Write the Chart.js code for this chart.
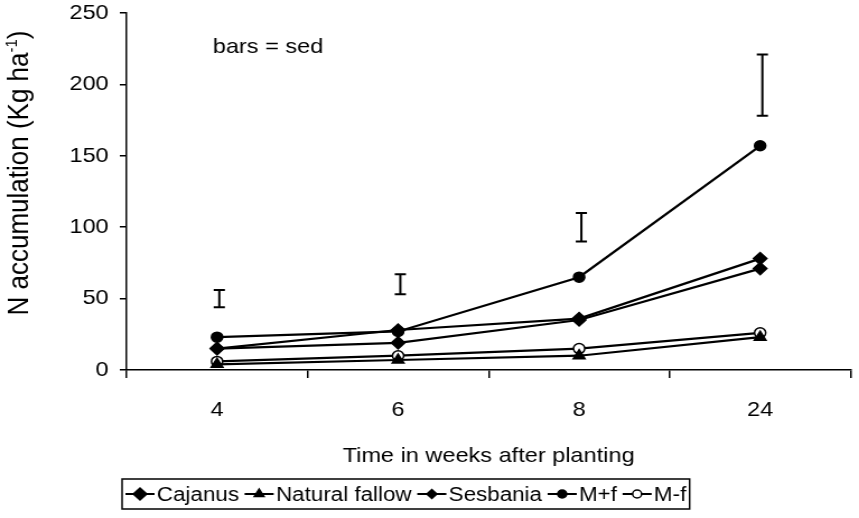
<!DOCTYPE html>
<html>
<head>
<meta charset="utf-8">
<script src="https://cdn.jsdelivr.net/npm/chart.js@4/dist/chart.umd.min.js"></script>
<style>
  html, body { margin: 0; padding: 0; background: #fff; overflow: hidden; }
  /* the original picture is stretched sideways, so draw narrow and widen */
  #wrap { width: 767px; height: 518px; transform: scaleX(1.12); transform-origin: 0 0; }
</style>
</head>
<body>
<div id="wrap"><canvas id="chart"></canvas></div>
<script>
// ── Data ──
const weeks = ['4', '6', '8', '24'];
const cajanus = [15, 28, 36, 78];
const naturalFallow = [4, 7, 10, 23];
const sesbania = [15, 19, 35, 71];
const mPlusF = [23, 27, 65, 157];
const mMinusF = [6, 10, 15, 26];
const sedLow = [44, 53, 90, 178];
const sedHigh = [56, 67, 110, 221];

const FONT = "'Liberation Sans', Arial, sans-serif";

function series(label, data, style, radius, fill, legendRadius) {
  return {
    label, data,
    borderColor: '#000', borderWidth: 2.2, tension: 0,
    pointStyle: style, pointRadius: radius,
    pointBackgroundColor: fill, pointBorderColor: '#000', pointBorderWidth: 1.5,
    legendRadius,
  };
}

const datasets = [
  series('Cajanus', cajanus, 'rectRot', 6, '#000', 6),
  series('Natural fallow', naturalFallow, 'triangle', 6, '#000', 5),
  series('Sesbania', sesbania, 'rectRot', 6, '#000', 4.5),
  series('M+f', mPlusF, 'circle', 5, '#000', 4),
  series('M-f', mMinusF, 'circle', 5, '#fff', 4),
];

// ── Extras: sed bars, note, axis titles, boxed legend ──
const extras = {
  id: 'extras',
  afterDatasetsDraw(chart) {
    const { ctx, scales: { x, y } } = chart;
    ctx.save();
    ctx.strokeStyle = '#000';
    ctx.lineWidth = 2;
    weeks.forEach((w, i) => {
      const px = x.getPixelForValue(i) + 2;
      const top = y.getPixelForValue(sedHigh[i]);
      const bot = y.getPixelForValue(sedLow[i]);
      ctx.beginPath();
      ctx.moveTo(px, top); ctx.lineTo(px, bot);
      ctx.moveTo(px - 5, top); ctx.lineTo(px + 5, top);
      ctx.moveTo(px - 5, bot); ctx.lineTo(px + 5, bot);
      ctx.stroke();
    });

    ctx.fillStyle = '#000';
    ctx.font = `21px ${FONT}`;
    ctx.textBaseline = 'middle';
    ctx.textAlign = 'left';
    ctx.fillText('bars = sed', 190, 47);

    // x title
    ctx.textAlign = 'center';
    ctx.fillText('Time in weeks after planting', (x.left + x.right) / 2, 456);

    // y title with superscript
    ctx.save();
    ctx.translate(16, 173);
    ctx.rotate(-Math.PI / 2);
    ctx.textAlign = 'left';
    ctx.textBaseline = 'alphabetic';
    const main = 'N accumulation (Kg ha', sup = '-1', end = ')';
    ctx.font = `26px ${FONT}`;
    const w1 = ctx.measureText(main).width, w3 = ctx.measureText(end).width;
    ctx.font = `15px ${FONT}`;
    const w2 = ctx.measureText(sup).width;
    let tx = -(w1 + w2 + w3) / 2;
    ctx.font = `26px ${FONT}`;
    ctx.fillText(main, tx, 9);
    ctx.font = `15px ${FONT}`;
    ctx.fillText(sup, tx + w1, -1);
    ctx.font = `26px ${FONT}`;
    ctx.fillText(end, tx + w1 + w2, 9);
    ctx.restore();

    // legend
    const boxLeft = 109, boxTop = 479, boxBottom = 509, midY = 494;
    const sym = 26, gap = 2, itemGap = 5;
    ctx.font = `20px ${FONT}`;
    ctx.textAlign = 'left';
    ctx.textBaseline = 'middle';
    let lx = boxLeft + 3;
    datasets.forEach(ds => {
      ctx.strokeStyle = '#000';
      ctx.lineWidth = 2;
      ctx.beginPath();
      ctx.moveTo(lx, midY); ctx.lineTo(lx + sym, midY);
      ctx.stroke();
      ctx.fillStyle = ds.pointBackgroundColor;
      ctx.lineWidth = 1.5;
      Chart.helpers.drawPoint(ctx, { pointStyle: ds.pointStyle, radius: ds.legendRadius, borderWidth: 1.5, rotation: 0 }, lx + sym / 2, midY);
      ctx.fillStyle = '#000';
      ctx.fillText(ds.label, lx + sym + gap, midY + 1);
      lx += sym + gap + ctx.measureText(ds.label).width + itemGap;
    });
    ctx.strokeStyle = '#000';
    ctx.lineWidth = 1.5;
    ctx.strokeRect(boxLeft, boxTop, lx - itemGap + 3 - boxLeft, boxBottom - boxTop);
    ctx.restore();
  }
};

new Chart(document.getElementById('chart'), {
  type: 'line',
  data: { labels: weeks, datasets },
  options: {
    responsive: true,
    maintainAspectRatio: false,
    animation: false,
    layout: { padding: { top: 13, right: 3, left: 0, bottom: 0 } },
    plugins: { legend: { display: false }, tooltip: { enabled: false } },
    scales: {
      x: {
        offset: true,
        grid: { offset: true, drawOnChartArea: false, tickLength: 8, color: '#000', lineWidth: 1.5 },
        border: { color: '#000', width: 1.5 },
        ticks: { color: '#000', font: { family: FONT, size: 21 }, padding: 20 },
        afterFit: s => { s.height = 148; s.paddingLeft = 0; s.paddingRight = 0; },
      },
      y: {
        min: 0, max: 250,
        grid: { drawOnChartArea: false, tickLength: 6, color: '#000', lineWidth: 1.5 },
        border: { color: '#000', width: 1.5 },
        ticks: { stepSize: 50, color: '#000', font: { family: FONT, size: 21 }, padding: 10 },
        afterFit: s => { s.width = 113; s.paddingTop = 0; s.paddingBottom = 0; },
      },
    },
  },
  plugins: [extras],
});
</script>
</body>
</html>
